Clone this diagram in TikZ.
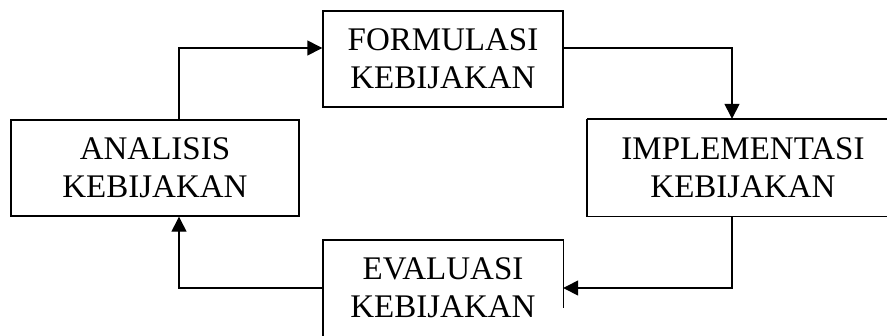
\documentclass[tikz,border=0pt]{standalone}
\usepackage{fontspec}
\setmainfont{Liberation Serif}
\usetikzlibrary{arrows.meta}
\begin{document}
\begin{tikzpicture}[x=1pt,y=-1pt,
  stagebox/.style={draw=black, line width=1.4pt, inner sep=0pt, align=center,
    font=\fontsize{33}{38}\selectfont},
  stagetext/.style={inner sep=0pt, align=center,
    font=\fontsize{33}{38}\selectfont},
  frame/.style={draw=black, line width=1.4pt},
  flow/.style={draw=black, line width=1.4pt,
    -{Triangle[length=15pt,width=15pt]}}]
  \useasboundingbox (0,0) rectangle (887,335);
  \clip (0,0) rectangle (887,335);

  % policy cycle stages
  \node[stagebox, minimum width=240pt, minimum height=96pt] (form) at (443,59)
    {FORMULASI\\KEBIJAKAN};
  \node[stagebox, minimum width=288pt, minimum height=96pt] (anal) at (155,168)
    {ANALISIS\\KEBIJAKAN};
  % these two boxes run past the picture's edge
  \node[stagetext, minimum width=312pt, minimum height=97pt] (impl) at (743,167.5)
    {IMPLEMENTASI\\KEBIJAKAN};
  \draw[frame] (impl.north west) -- ++(330,0)
               (impl.north west) -- (impl.south west) -- ++(330,0);
  \node[stagetext, minimum width=240pt, minimum height=96pt] (eval) at (443,288)
    {EVALUASI\\KEBIJAKAN};
  \draw[frame] (eval.south west) ++(0,20) -- (eval.north west)
               -- (eval.north east) -- ++(0,68);

  % elbow turning points
  \coordinate (tl) at (179,48);
  \coordinate (tr) at (732,48);
  \coordinate (br) at (732,288);
  \coordinate (bl) at (179,288);

  % connectors around the cycle
  \draw[flow] (anal.north -| tl) -- (tl) -- (form.west |- tl);
  \draw[flow] (form.east |- tr) -- (tr) -- (impl.north -| tr);
  \draw[flow] (impl.south -| br) -- (br) -- (eval.east |- br);
  \draw[flow] (eval.west |- bl) -- (bl) -- (anal.south -| bl);
\end{tikzpicture}
\end{document}
